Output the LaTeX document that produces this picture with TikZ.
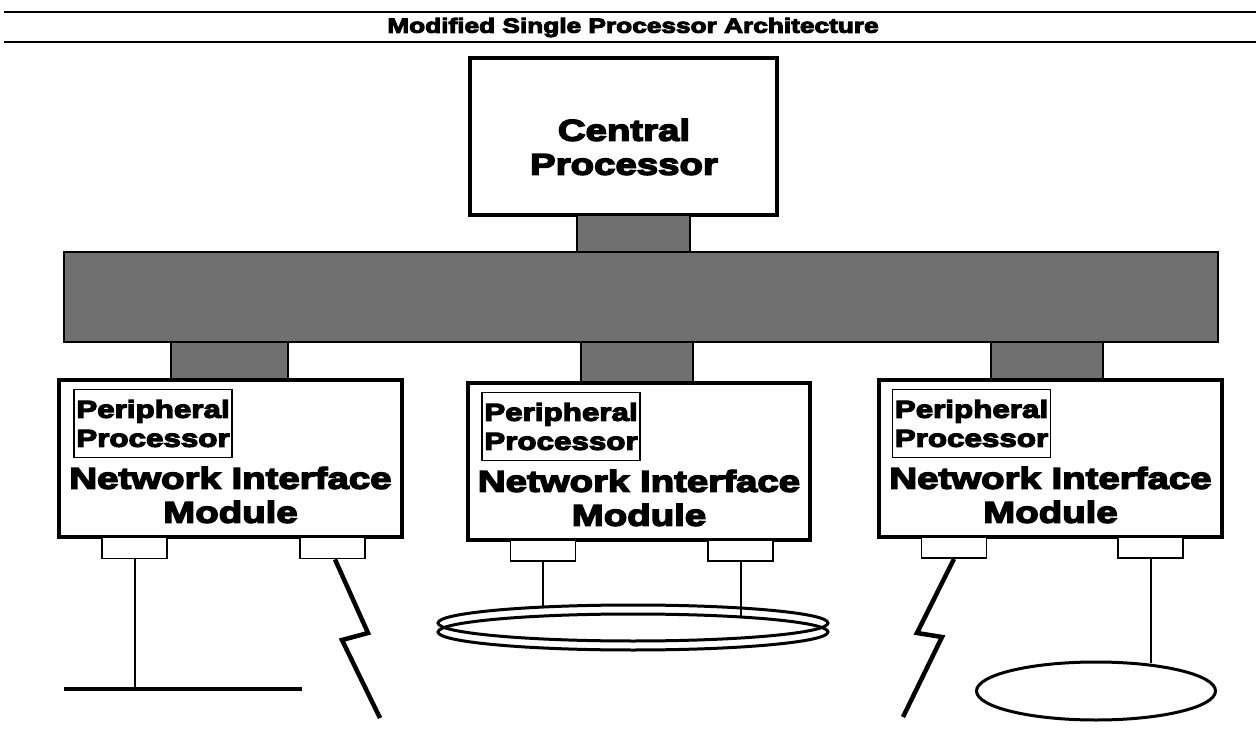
\documentclass[tikz,border=0pt]{standalone}
\usepackage{fontspec}
\setmainfont{Liberation Sans}[BoldFeatures={FakeBold=5,FakeStretch=1.28}]
\usetikzlibrary{shapes.geometric}
\definecolor{busgray}{RGB}{112,112,112}
\begin{document}
\begin{tikzpicture}[x=1pt,y=-1pt,
  big/.style={draw, line width=3.5pt, fill=white, inner sep=0pt},
  gbar/.style={draw, line width=1.5pt, fill=busgray, inner sep=0pt},
  ppbox/.style={draw, line width=1.8pt, fill=white, inner sep=0pt, minimum width=158pt, minimum height=68pt, align=left, font=\bfseries\fontsize{24.5}{29}\selectfont},
  bigtext/.style={align=center, inner sep=0pt, font=\bfseries\fontsize{30}{34}\selectfont},
  port/.style={draw, line width=1.8pt, fill=white, inner sep=0pt, minimum width=65pt, minimum height=21pt},
  wire/.style={line width=2pt},
  lan/.style={line width=3.2pt},
  bolt/.style={line width=4.5pt, line join=miter, miter limit=10},
  ringe/.style={ellipse, draw, line width=3pt, inner sep=0pt},
  rule/.style={line width=2pt},
]
\useasboundingbox (0,0) rectangle (1256,735);

% title
\coordinate (t1a) at (4,12); \coordinate (t1b) at (1256,12);
\coordinate (t2a) at (4,42); \coordinate (t2b) at (1256,42);
\draw[rule] (t1a) -- (t1b);
\draw[rule] (t2a) -- (t2b);
\node[inner sep=0pt, font=\bfseries\fontsize{20.5}{22}\selectfont] (title) at (633,27.5) {Modified Single Processor Architecture};

% central processor
\node[big, minimum width=307pt, minimum height=157pt] (cp) at (623.5,136.5) {};
\node[bigtext] (cptext) at (624,147) {Central\\Processor};

% bus and connectors
\node[gbar, minimum width=1154pt, minimum height=90pt] (bus) at (641,297) {};
\node[gbar, minimum width=113pt, minimum height=37pt] (cpc) at (633.5,233.5) {};
\node[gbar, minimum width=117pt, minimum height=38pt] (cL) at (229.5,361) {};
\node[gbar, minimum width=112pt, minimum height=41pt] (cM) at (637,362.5) {};
\node[gbar, minimum width=112pt, minimum height=38pt] (cR) at (1047,361) {};

% modules
\node[big, minimum width=343pt, minimum height=157pt] (nimL) at (230.5,458.5) {};
\node[big, minimum width=342pt, minimum height=157pt] (nimM) at (639,461.5) {};
\node[big, minimum width=343pt, minimum height=157pt] (nimR) at (1050.5,458.5) {};

\node[ppbox] (ppL) at (153,423.5) {Peripheral\\Processor};
\node[ppbox] (ppM) at (561,426.5) {Peripheral\\Processor};
\node[ppbox] (ppR) at (971.5,423.5) {Peripheral\\Processor};

\node[bigtext] (tL) at (230.5,495) {Network Interface\\Module};
\node[bigtext] (tM) at (639,498) {Network Interface\\Module};
\node[bigtext] (tR) at (1050.5,495) {Network Interface\\Module};

% ports
\node[port] (pL1) at (134.5,548) {};
\node[port] (pL2) at (332.5,548) {};
\node[port] (pM1) at (543,550.5) {};
\node[port] (pM2) at (740.5,550.5) {};
\node[port] (pR1) at (954,547.5) {};
\node[port] (pR2) at (1150.5,547.5) {};

% left: bus LAN and radio link
\coordinate (lanL) at (64,689); \coordinate (lanR) at (302,689);
\draw[lan] (lanL) -- (lanR);
\draw[wire] (pL1.south) -- (pL1.south |- lanL);
\coordinate (bL1) at (368,633); \coordinate (bL2) at (342,640); \coordinate (bL3) at (380,718);
\draw[bolt] ([xshift=2.5pt]pL2.south) -- (bL1) -- (bL2) -- (bL3);

% middle: ring
\node[ringe, minimum width=390pt, minimum height=36pt] (ringA) at (633,623) {};
\node[ringe, minimum width=390pt, minimum height=36pt] (ringB) at (633,632) {};
\draw[wire] (pM1.south) -- ([yshift=-2pt]pM1.south |- ringA.north);
\draw[wire] (pM2.south) -- ([yshift=-3pt]pM2.south |- ringB.north);

% right: radio link and loop
\coordinate (bR1) at (917,633); \coordinate (bR2) at (942,637); \coordinate (bR3) at (903,717);
\draw[bolt] (pR1.south) -- (bR1) -- (bR2) -- (bR3);
\node[ringe, minimum width=239pt, minimum height=58pt] (ringR) at (1096,691) {};
\draw[wire] (pR2.south) -- ([yshift=-2pt]pR2.south |- ringR.north);
\end{tikzpicture}
\end{document}
